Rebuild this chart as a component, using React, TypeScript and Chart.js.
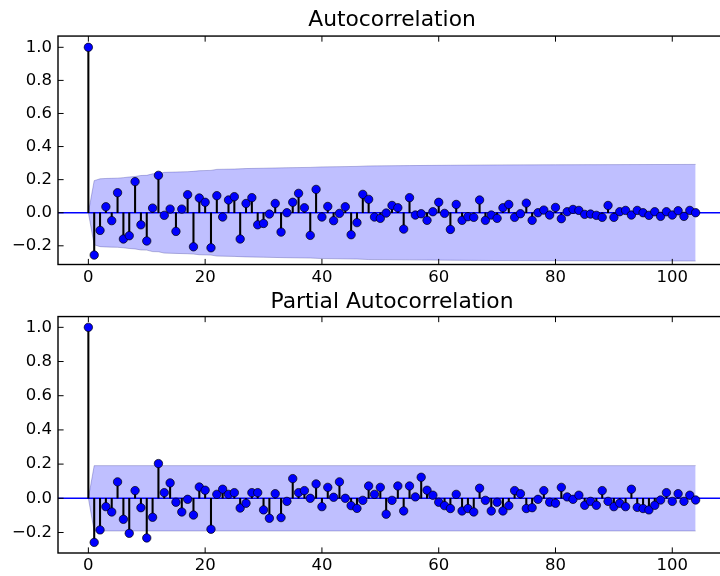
import React, { useEffect, useRef } from "react";
import { Chart, registerables } from "chart.js";

Chart.register(...registerables);

const lags: number[] = Array.from({ length: 105 }, (_, i) => i);

const acfValues: number[] = [
  1.0, -0.256, -0.107, 0.036, -0.048, 0.121, -0.159, -0.139, 0.188, -0.073,
  -0.171, 0.028, 0.226, -0.016, 0.022, -0.113, 0.022, 0.109, -0.206, 0.089,
  0.063, -0.212, 0.103, -0.026, 0.077, 0.097, -0.159, 0.056, 0.091, -0.073,
  -0.065, -0.008, 0.056, -0.117, 0.0, 0.063, 0.117, 0.03, -0.137, 0.141,
  -0.026, 0.038, -0.048, -0.004, 0.036, -0.133, -0.06, 0.111, 0.081, -0.026,
  -0.034, -0.002, 0.044, 0.03, -0.099, 0.091, -0.014, -0.006, -0.046, 0.006,
  0.063, -0.004, -0.101, 0.05, -0.046, -0.024, -0.028, 0.077, -0.046, -0.014,
  -0.034, 0.03, 0.05, -0.028, -0.006, 0.058, -0.046, 0.0, 0.016, -0.014,
  0.032, -0.036, 0.006, 0.02, 0.014, -0.01, -0.008, -0.016, -0.028, 0.044,
  -0.028, 0.006, 0.014, -0.014, 0.014, 0.0, -0.016, 0.006, -0.022, 0.006,
  -0.014, 0.012, -0.022, 0.014, 0.0,
];

const pacfValues: number[] = [
  1.0, -0.258, -0.185, -0.049, -0.08, 0.096, -0.123, -0.205, 0.045, -0.055,
  -0.232, -0.111, 0.203, 0.033, 0.09, -0.023, -0.08, -0.006, -0.098, 0.066,
  0.047, -0.181, 0.023, 0.053, 0.023, 0.033, -0.057, -0.029, 0.033, 0.033,
  -0.068, -0.117, 0.027, -0.113, -0.018, 0.115, 0.033, 0.045, 0.0, 0.084,
  -0.049, 0.064, 0.006, 0.096, 0.0, -0.043, -0.059, -0.012, 0.072, 0.023,
  0.064, -0.093, -0.012, 0.072, -0.074, 0.072, 0.008, 0.123, 0.047, 0.018,
  -0.023, -0.043, -0.06, 0.023, -0.074, -0.06, -0.08, 0.059, -0.012, -0.074,
  -0.023, -0.074, -0.043, 0.045, 0.027, -0.06, -0.055, -0.006, 0.045, -0.023,
  -0.029, 0.064, 0.008, -0.006, 0.018, -0.041, -0.018, -0.041, 0.045, -0.018,
  -0.049, -0.029, -0.049, 0.053, -0.053, -0.06, -0.068, -0.041, -0.01, 0.033,
  -0.018, 0.027, -0.018, 0.018, -0.01,
];

// confidence band (upper edge; lower edge is its mirror)
const acfBandLags: number[] = [0, 1, 2, 3, 4, 5, 6, 7, 8, 9, 10, 11, 12, 13, 15, 17, 18, 19, 21, 22, 25, 27, 30, 34, 38, 40, 46, 48, 55, 62, 70, 80, 104];
const acfBandUpper: number[] = [0, 0.194, 0.205, 0.207, 0.208, 0.209, 0.212, 0.216, 0.219, 0.225, 0.226, 0.235, 0.236, 0.244, 0.246, 0.248, 0.25, 0.254, 0.256, 0.262, 0.264, 0.267, 0.269, 0.272, 0.274, 0.277, 0.28, 0.283, 0.285, 0.287, 0.289, 0.29, 0.292];

const pacfBandLags: number[] = [0, 1, 104];
const pacfBandUpper: number[] = [0, 0.191, 0.191];

const xTicks: number[] = [0, 20, 40, 60, 80, 100];
const yTicks: number[] = [-0.2, 0, 0.2, 0.4, 0.6, 0.8, 1.0];

const X_MIN = -5.2;
const X_MAX = 109.2;

const FONT = "'DejaVu Sans', 'Liberation Sans', sans-serif";

const fmtY = (v: number) => (v < 0 ? "\u2212" + Math.abs(v).toFixed(1) : v.toFixed(1));

const framePlugin = {
  id: "mplFrame",
  afterDraw(chart: any) {
    const { ctx, chartArea: a, scales } = chart;
    const L = 5.6;
    ctx.save();
    ctx.strokeStyle = "#000";
    ctx.lineWidth = 1;
    ctx.beginPath();
    for (const v of xTicks) {
      const px = scales.x.getPixelForValue(v);
      ctx.moveTo(px, a.bottom);
      ctx.lineTo(px, a.bottom - L);
      ctx.moveTo(px, a.top);
      ctx.lineTo(px, a.top + L);
    }
    for (const v of yTicks) {
      const py = scales.y.getPixelForValue(v);
      ctx.moveTo(a.left, py);
      ctx.lineTo(a.left + L, py);
      ctx.moveTo(a.right, py);
      ctx.lineTo(a.right - L, py);
    }
    ctx.stroke();
    ctx.lineWidth = 1.4;
    ctx.strokeRect(a.left, a.top, a.right - a.left, a.bottom - a.top);
    ctx.restore();
  },
};

type PanelProps = {
  title: string;
  values: number[];
  bandLags: number[];
  bandUpper: number[];
  yMin: number;
  yMax: number;
  top: number;
  height: number;
  titleTop: number;
  titleBottom: number;
  xAxisHeight: number;
};

const CANVAS_W = 784;
const AREA_LEFT = 58;
const AREA_RIGHT = 726;

function Panel(p: PanelProps) {
  const ref = useRef<HTMLCanvasElement | null>(null);
  useEffect(() => {
    if (!ref.current) return;
    const chart = new Chart(ref.current, {
      type: "scatter",
      data: {
        datasets: [
          {
            type: "line",
            label: "band upper",
            data: p.bandLags.map((x, i) => ({ x, y: p.bandUpper[i] })),
            borderColor: "rgba(40,40,140,0.3)",
            borderWidth: 1,
            pointRadius: 0,
            fill: false,
            tension: 0,
            order: 10,
          },
          {
            type: "line",
            label: "band lower",
            data: p.bandLags.map((x, i) => ({ x, y: -p.bandUpper[i] })),
            borderColor: "rgba(40,40,140,0.3)",
            borderWidth: 1,
            pointRadius: 0,
            fill: "-1",
            backgroundColor: "rgba(0,0,255,0.25)",
            tension: 0,
            order: 9,
          },
          {
            type: "line",
            label: "zero",
            data: [
              { x: X_MIN, y: 0 },
              { x: X_MAX, y: 0 },
            ],
            borderColor: "#0000ff",
            borderWidth: 1.4,
            pointRadius: 0,
            fill: false,
            order: 5,
          },
          {
            type: "bar",
            label: "stems",
            data: lags.map((x) => ({ x, y: [0, p.values[x]] })) as any,
            backgroundColor: "#000",
            borderWidth: 0,
            barThickness: 1.4,
            order: 3,
          },
          {
            type: "scatter",
            label: "values",
            data: lags.map((x) => ({ x, y: p.values[x] })),
            backgroundColor: "#0000ff",
            borderColor: "#000",
            borderWidth: 0.7,
            pointRadius: 4.2,
            order: 1,
          },
        ],
      },
      options: {
        responsive: false,
        animation: false,
        events: [],
        layout: { padding: { top: 0, left: 0, right: 0, bottom: 0 } },
        plugins: {
          legend: { display: false },
          tooltip: { enabled: false },
          title: {
            display: true,
            text: p.title,
            color: "#000",
            font: { family: FONT, size: 21.8, weight: "normal" as any, lineHeight: 1.2 },
            padding: { top: p.titleTop, bottom: p.titleBottom },
          },
        },
        scales: {
          x: {
            type: "linear",
            min: X_MIN,
            max: X_MAX,
            offset: false,
            grid: { display: false, drawTicks: false },
            border: { display: false },
            afterBuildTicks: (s: any) => {
              s.ticks = xTicks.map((v) => ({ value: v }));
            },
            afterFit: (s: any) => {
              s.height = p.xAxisHeight;
            },
            ticks: {
              color: "#000",
              padding: 3,
              maxRotation: 0,
              autoSkip: false,
              font: { family: FONT, size: 16.5 },
              callback: (v: any) => String(v),
            },
          },
          y: {
            type: "linear",
            position: "left",
            min: p.yMin,
            max: p.yMax,
            grid: { display: false, drawTicks: false },
            border: { display: false },
            afterBuildTicks: (s: any) => {
              s.ticks = yTicks.map((v) => ({ value: v }));
            },
            afterFit: (s: any) => {
              s.width = AREA_LEFT;
            },
            ticks: {
              color: "#000",
              padding: 6,
              autoSkip: false,
              font: { family: FONT, size: 16.5 },
              callback: (v: any) => fmtY(Number(v)),
            },
          },
          yRight: {
            type: "linear",
            position: "right",
            min: p.yMin,
            max: p.yMax,
            grid: { display: false, drawTicks: false },
            border: { display: false },
            ticks: { display: false },
            afterFit: (s: any) => {
              s.width = CANVAS_W - AREA_RIGHT;
            },
          },
        },
      },
      plugins: [framePlugin],
    });
    return () => chart.destroy();
  }, []);
  return (
    <canvas
      ref={ref}
      width={CANVAS_W}
      height={p.height}
      style={{ position: "absolute", left: 0, top: p.top, width: CANVAS_W, height: p.height }}
    />
  );
}

export default function App() {
  return (
    <div
      style={{
        position: "fixed",
        left: 0,
        top: 0,
        width: 720,
        height: 576,
        overflow: "hidden",
        background: "#fff",
      }}
    >
      <Panel
        title="Autocorrelation"
        values={acfValues}
        bandLags={acfBandLags}
        bandUpper={acfBandUpper}
        yMin={-0.313}
        yMax={1.068}
        top={0}
        height={290}
        titleTop={6.9}
        titleBottom={3}
        xAxisHeight={25.5}
      />
      <Panel
        title="Partial Autocorrelation"
        values={pacfValues}
        bandLags={pacfBandLags}
        bandUpper={pacfBandUpper}
        yMin={-0.32}
        yMax={1.063}
        top={280}
        height={296}
        titleTop={8.9}
        titleBottom={1.5}
        xAxisHeight={23}
      />
    </div>
  );
}
